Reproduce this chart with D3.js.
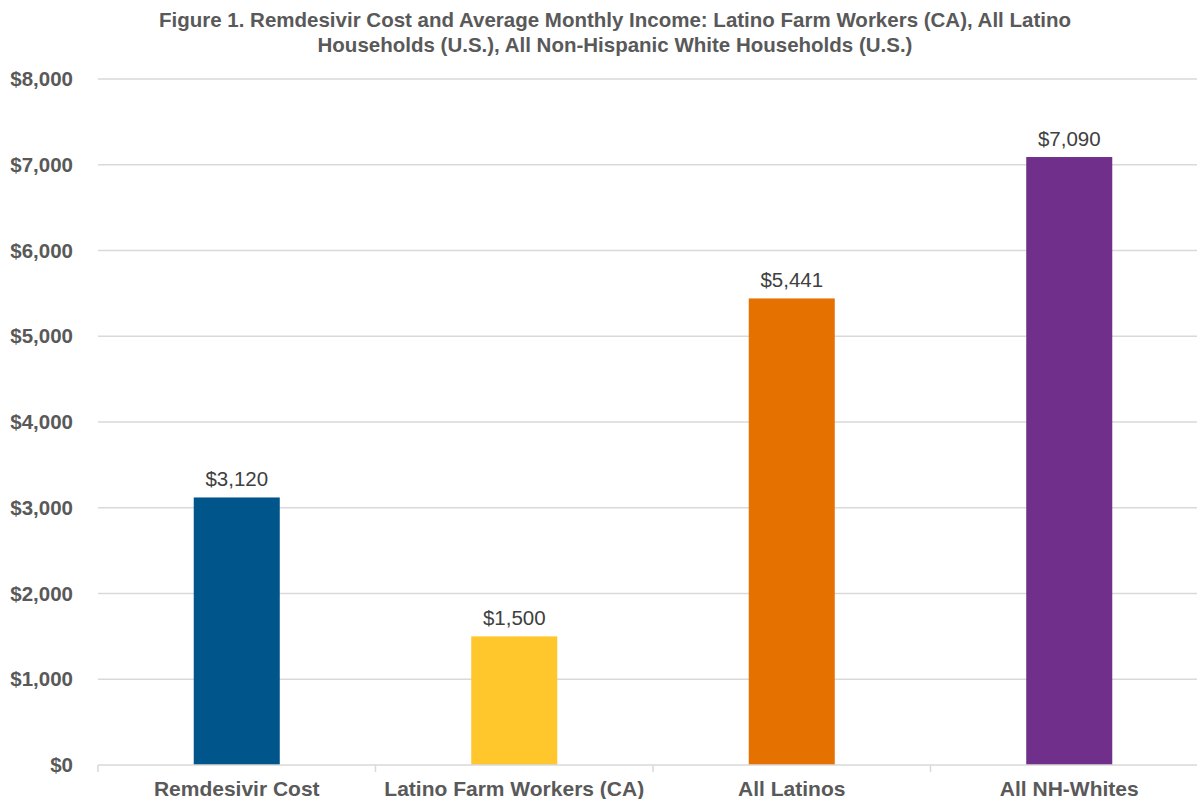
<!DOCTYPE html>
<html>
<head>
<meta charset="utf-8">
<script src="https://cdn.jsdelivr.net/npm/d3@7"></script>
<style>
body { margin:0; background:#fff; }
svg text { font-family: "Liberation Sans", Arial, sans-serif; }
</style>
</head>
<body>
<svg id="chart"></svg>
<script>
var categories = ["Remdesivir Cost", "Latino Farm Workers (CA)", "All Latinos", "All NH-Whites"];
var values = [3120, 1500, 5441, 7090];
var barColors = ["#00558a", "#ffc72c", "#e57200", "#702f8a"];
var yTicks = [0, 1000, 2000, 3000, 4000, 5000, 6000, 7000, 8000];
var titleLines = ["Figure 1. Remdesivir Cost and Average Monthly Income: Latino Farm Workers (CA), All Latino",
                  "Households (U.S.), All Non-Hispanic White Households (U.S.)"];

var screen = {width:1197, height:799};
var margins = {top:79, bottom:34, left:98, right:-11};
var graph = {
    width: screen.width - margins.left - margins.right,
    height: screen.height - margins.top - margins.bottom
};

var svg = d3.select("#chart")
    .attr("width", screen.width)
    .attr("height", screen.height);

var xScale = d3.scaleBand()
    .domain(categories)
    .range([0, graph.width])
    .paddingInner(0.69)
    .paddingOuter(0.345);

var yScale = d3.scaleLinear()
    .domain([0, 8000])
    .range([graph.height, 0]);

var g = svg.append("g")
    .attr("transform", "translate(" + margins.left + "," + margins.top + ")");

// gridlines
g.append("g")
    .selectAll("line")
    .data(yTicks.slice(1))
    .enter()
    .append("line")
    .attr("x1", 0)
    .attr("x2", graph.width)
    .attr("y1", function(d){ return yScale(d); })
    .attr("y2", function(d){ return yScale(d); })
    .attr("stroke", "#d9d9d9")
    .attr("stroke-width", 1.5);

// y labels
g.append("g")
    .selectAll("text")
    .data(yTicks)
    .enter()
    .append("text")
    .attr("x", -25)
    .attr("y", function(d){ return yScale(d); })
    .attr("dy", "0.35em")
    .attr("text-anchor", "end")
    .attr("font-size", "20.5px")
    .attr("font-weight", "bold")
    .attr("fill", "#595959")
    .text(function(d){ return "$" + d3.format(",")(d); });

// bars
g.append("g")
    .selectAll("rect")
    .data(values)
    .enter()
    .append("rect")
    .attr("x", function(d, i){ return xScale(categories[i]); })
    .attr("width", xScale.bandwidth())
    .attr("y", function(d){ return yScale(d); })
    .attr("height", function(d){ return graph.height - yScale(d); })
    .attr("fill", function(d, i){ return barColors[i]; });

// value labels
g.append("g")
    .selectAll("text")
    .data(values)
    .enter()
    .append("text")
    .attr("x", function(d, i){ return xScale(categories[i]) + xScale.bandwidth()/2; })
    .attr("y", function(d){ return yScale(d) - 11; })
    .attr("text-anchor", "middle")
    .attr("font-size", "20.5px")
    .attr("fill", "#404040")
    .text(function(d){ return "$" + d3.format(",")(d); });

// x axis line and ticks between categories
var axis = g.append("g")
    .attr("transform", "translate(0," + graph.height + ")");
axis.append("line")
    .attr("x1", 0)
    .attr("x2", graph.width)
    .attr("stroke", "#d9d9d9")
    .attr("stroke-width", 1.5);
axis.selectAll("line.tick")
    .data(d3.range(categories.length + 1))
    .enter()
    .append("line")
    .classed("tick", true)
    .attr("x1", function(i){ return i * graph.width / categories.length; })
    .attr("x2", function(i){ return i * graph.width / categories.length; })
    .attr("y1", 0)
    .attr("y2", 7)
    .attr("stroke", "#d9d9d9")
    .attr("stroke-width", 1.5);
axis.selectAll("text")
    .data(categories)
    .enter()
    .append("text")
    .attr("x", function(d){ return xScale(d) + xScale.bandwidth()/2; })
    .attr("y", 31)
    .attr("text-anchor", "middle")
    .attr("font-size", "21px")
    .attr("font-weight", "bold")
    .attr("fill", "#595959")
    .text(function(d){ return d; });

// title
svg.append("g")
    .selectAll("text")
    .data(titleLines)
    .enter()
    .append("text")
    .attr("x", 615)
    .attr("y", function(d, i){ return 27 + i * 25; })
    .attr("text-anchor", "middle")
    .attr("font-size", "20.5px")
    .attr("font-weight", "bold")
    .attr("fill", "#595959")
    .text(function(d){ return d; });
</script>
</body>
</html>
